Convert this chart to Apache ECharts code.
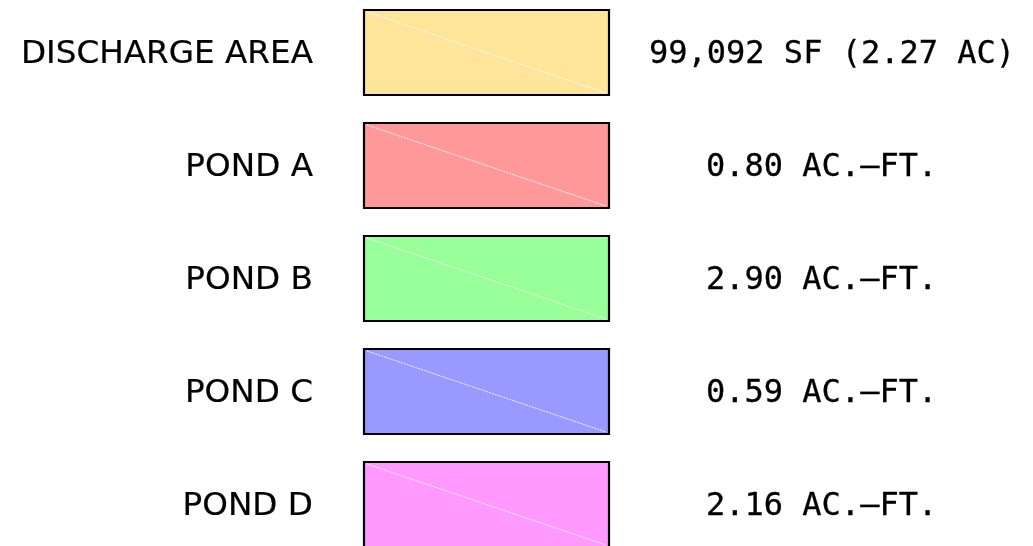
<!DOCTYPE html>
<html>
<head>
<meta charset="utf-8">
<script src="https://cdn.jsdelivr.net/npm/echarts@6/dist/echarts.min.js"></script>
<style>html,body{margin:0;padding:0;background:#fff}#c{width:1033px;height:546px}</style>
</head>
<body>
<div id="c"></div>
<script>
const labels = ['DISCHARGE AREA', 'POND A', 'POND B', 'POND C', 'POND D'];
const quantities = ['99,092 SF (2.27 AC)', '0.80 AC.\u2014FT.', '2.90 AC.\u2014FT.', '0.59 AC.\u2014FT.', '2.16 AC.\u2014FT.'];
const rows = [0, 1, 2, 3, 4];
const fills = ['#FFE599', '#FF9999', '#99FF99', '#9999FF', '#FF99FF'];

const chart = echarts.init(document.getElementById('c'), null, {renderer: 'canvas'});
const SANS = '"DejaVu Sans", sans-serif';
const MONO = '"DejaVu Sans Mono", monospace';
chart.setOption({
  animation: false,
  backgroundColor: '#ffffff',
  grid: {left: 0, right: 0, top: 0, bottom: 0},
  xAxis: {type: 'value', min: 0, max: 1033, show: false},
  yAxis: {type: 'value', inverse: true, min: -52.5 / 113, max: (546 - 52.5) / 113, show: false},
  series: [{
    type: 'custom',
    data: rows.map(r => [r]),
    renderItem: function (params, api) {
      const i = api.value(0);
      const tl = api.coord([364, i - 42.5 / 113]);
      const br = api.coord([609, i + 42.5 / 113]);
      const mid = api.coord([0, i]);
      const left = api.coord([313, i]);
      const right = api.coord([i === 0 ? 649 : 706, i]);
      return {
        type: 'group',
        children: [
          {type: 'rect', shape: {x: tl[0], y: tl[1], width: br[0] - tl[0], height: br[1] - tl[1]},
           style: {fill: fills[i], stroke: '#000', lineWidth: 2.2}},
          {type: 'line', shape: {x1: tl[0] + 3, y1: tl[1] + 2, x2: br[0] - 3, y2: br[1] - 2},
           style: {stroke: '#ffffff', lineWidth: 1, lineDash: [2, 1], opacity: 0.9}},
          {type: 'text', x: left[0], y: mid[1] + 2.5, scaleX: 1.02,
           style: {text: labels[i], fill: '#000', stroke: '#000', lineWidth: 0.2,
                   font: '32px ' + SANS, align: 'right', verticalAlign: 'middle'}},
          {type: 'text', x: right[0], y: mid[1] + 2.5,
           style: {text: quantities[i], fill: '#000', stroke: '#000', lineWidth: 0.3,
                   font: '32px ' + MONO, align: 'left', verticalAlign: 'middle'}}
        ]
      };
    }
  }]
});
</script>
</body>
</html>
